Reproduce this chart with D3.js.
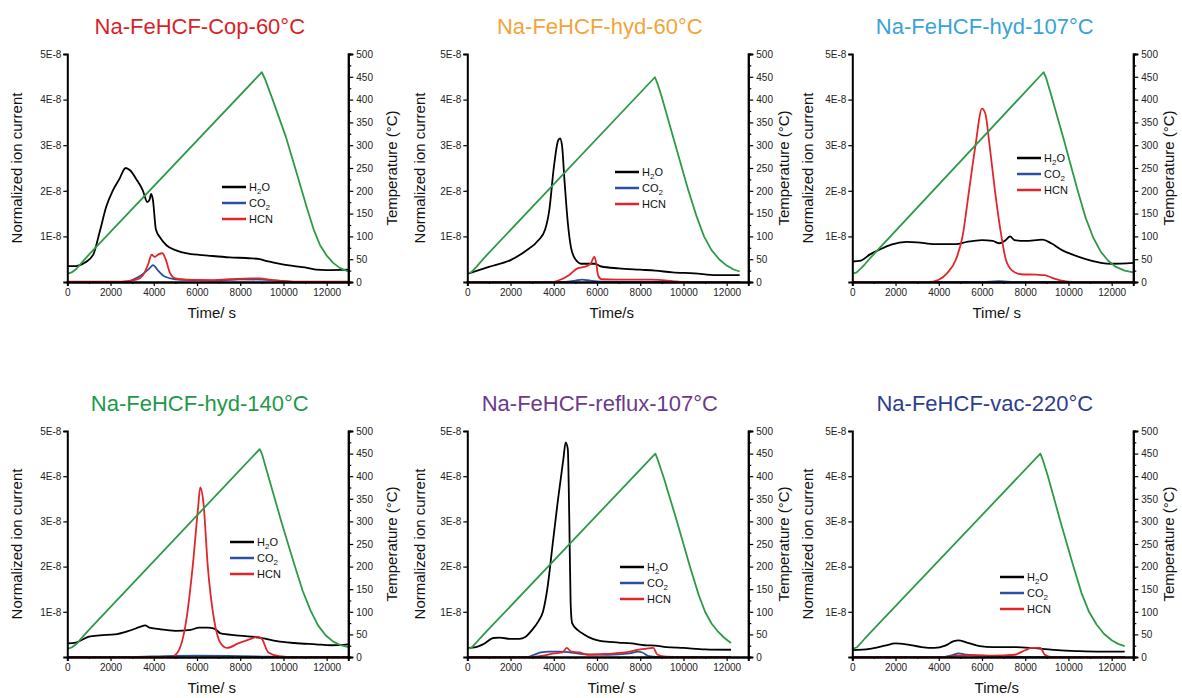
<!DOCTYPE html>
<html>
<head>
<meta charset="utf-8">
<script src="https://cdn.jsdelivr.net/npm/d3@7/dist/d3.min.js"></script>
<style>
  html, body { margin: 0; padding: 0; background: #fff; }
  svg { display: block; font-family: "Liberation Sans", Arial, sans-serif; }
</style>
</head>
<body>
<svg id="chart" width="1182" height="698"></svg>
<script>
// ---------------- DATA (time in s; ion current in units of 1E-8; temperature in °C) ----------------
const timeTicks = [0, 2000, 4000, 6000, 8000, 10000, 12000];
const currentTicks = [1, 2, 3, 4, 5];
const tempTicks = [0, 50, 100, 150, 200, 250, 300, 350, 400, 450, 500];
const seriesNames = ["H2O", "CO2", "HCN"];

// Panel 1: Na-FeHCF-Cop-60°C
const cop60_temp = [[0,18],[200,21],[400,28],[700,44],[1000,60],[9000,460],[9150,445],[9500,400],[10100,320],[10700,225],[11100,160],[11400,115],[11700,80],[12000,58],[12300,42],[12600,31],[13000,23]];
const cop60_h2o = [[0,0.35],[400,0.35],[800,0.42],[1200,0.6],[1500,1.1],[1800,1.65],[2100,2.0],[2400,2.25],[2700,2.5],[2900,2.45],[3200,2.25],[3500,2.0],[3700,1.75],[3800,1.8],[3880,1.93],[3960,1.8],[4100,1.15],[4300,0.97],[4600,0.8],[5000,0.7],[5600,0.62],[6500,0.58],[7500,0.54],[8500,0.52],[8900,0.5],[9300,0.45],[9900,0.39],[10500,0.35],[11000,0.32],[11500,0.27],[12000,0.26],[13000,0.27]];
const cop60_co2 = [[0,0],[2800,0],[3000,0.04],[3400,0.14],[3800,0.3],[3970,0.37],[4200,0.25],[4500,0.12],[5000,0.06],[6000,0.04],[7000,0.03],[8000,0.06],[9000,0.05],[10000,0.02],[10500,0],[13000,0]];
const cop60_hcn = [[0,0.01],[2500,0.01],[3200,0.05],[3500,0.15],[3750,0.4],[3900,0.6],[4050,0.55],[4200,0.6],[4400,0.63],[4550,0.5],[4750,0.2],[5000,0.08],[5500,0.05],[6500,0.04],[7500,0.06],[8500,0.08],[8900,0.08],[9500,0.04],[10500,0.01],[13000,0.01]];

// Panel 2: Na-FeHCF-hyd-60°C
const hyd60_temp = [[0,18],[200,22],[400,32],[600,43],[900,59],[8680,449],[8800,435],[9000,405],[9600,305],[10200,205],[10600,145],[10950,100],[11300,70],[11650,50],[12000,36],[12300,28],[12600,23]];
const hyd60_h2o = [[0,0.18],[1000,0.33],[2000,0.48],[2700,0.68],[3300,0.92],[3600,1.15],[3800,1.6],[4000,2.5],[4200,3.1],[4290,3.15],[4380,3.0],[4500,2.2],[4650,1.3],[4800,0.75],[5000,0.5],[5300,0.4],[5900,0.4],[6200,0.34],[7000,0.3],[8000,0.27],[8700,0.25],[9500,0.21],[10500,0.19],[11500,0.15],[12600,0.15]];
const hyd60_co2 = [[0,0],[4500,0],[5000,0.03],[5300,0.05],[5700,0.03],[6200,0.01],[7000,0],[12600,0]];
const hyd60_hcn = [[0,0],[3900,0],[4300,0.05],[4700,0.15],[5100,0.3],[5400,0.33],[5700,0.4],[5880,0.55],[5950,0.45],[6050,0.15],[6200,0.06],[7000,0.05],[8500,0.05],[9500,0.02],[10000,0],[12600,0]];

// Panel 3: Na-FeHCF-hyd-107°C
const hyd107_temp = [[0,18],[200,21],[400,30],[600,40],[900,56],[8850,460],[8950,450],[9200,410],[9800,310],[10400,205],[10800,140],[11150,97],[11500,66],[11850,46],[12200,33],[12600,25],[13000,21]];
const hyd107_h2o = [[0,0.45],[400,0.47],[800,0.6],[1300,0.72],[1800,0.82],[2500,0.88],[3000,0.87],[3800,0.83],[4800,0.83],[5300,0.88],[6000,0.92],[6500,0.9],[6800,0.85],[7100,0.92],[7300,1.0],[7500,0.92],[8000,0.9],[8800,0.93],[9200,0.85],[9700,0.7],[10200,0.6],[10800,0.5],[11500,0.42],[12000,0.4],[13000,0.42]];
const hyd107_co2 = [[0,0],[6000,0],[6800,0.02],[7500,0],[13000,0]];
const hyd107_hcn = [[0,0],[3500,0],[4000,0.05],[4400,0.2],[4800,0.5],[5100,1.0],[5400,2.0],[5700,3.0],[6000,3.8],[6150,3.7],[6350,3.0],[6600,2.0],[6900,1.0],[7100,0.5],[7400,0.25],[7800,0.17],[8500,0.16],[8900,0.15],[9200,0.1],[9700,0.03],[10200,0],[13000,0]];

// Panel 4: Na-FeHCF-hyd-140°C
const hyd140_temp = [[0,18],[200,21],[450,30],[700,44],[1000,60],[8900,460],[9000,450],[9300,400],[9900,300],[10500,205],[10900,145],[11250,103],[11600,70],[11950,48],[12300,34],[12650,26],[13000,22]];
const hyd140_h2o = [[0,0.3],[400,0.32],[1000,0.45],[1500,0.48],[2200,0.5],[2800,0.57],[3400,0.67],[3600,0.7],[3800,0.65],[4200,0.62],[5000,0.58],[5700,0.6],[6100,0.65],[6500,0.65],[6800,0.63],[7100,0.52],[7800,0.48],[8500,0.45],[9000,0.42],[9700,0.35],[10500,0.31],[11500,0.28],[12200,0.26],[13000,0.28]];
const hyd140_co2 = [[0,0],[3000,0],[4500,0.02],[6000,0.03],[8000,0.02],[9000,0.01],[10000,0],[13000,0]];
const hyd140_hcn = [[0,0],[4800,0],[5100,0.1],[5500,0.8],[5800,2.0],[6050,3.3],[6150,3.75],[6300,3.4],[6500,2.0],[6800,0.8],[7100,0.3],[7400,0.2],[7900,0.3],[8500,0.4],[8800,0.45],[9000,0.4],[9300,0.1],[9800,0.02],[10500,0],[13000,0]];

// Panel 5: Na-FeHCF-reflux-107°C
const reflux107_temp = [[0,18],[200,21],[400,31],[600,42],[900,57],[8700,450],[8800,438],[9100,395],[9700,300],[10300,200],[10700,138],[11000,100],[11300,74],[11600,56],[11900,42],[12200,31]];
const reflux107_h2o = [[0,0.2],[400,0.22],[800,0.3],[1200,0.42],[1500,0.43],[2000,0.4],[2400,0.4],[2700,0.45],[3000,0.6],[3300,0.8],[3500,1.0],[3700,1.5],[3950,2.5],[4200,3.5],[4450,4.4],[4550,4.75],[4650,4.6],[4720,3.0],[4780,1.2],[4850,0.75],[5100,0.6],[5400,0.5],[5800,0.4],[6200,0.35],[7000,0.32],[7600,0.3],[8200,0.26],[8700,0.25],[9200,0.22],[10000,0.2],[11000,0.17],[12200,0.16]];
const reflux107_co2 = [[0,0],[2800,0],[3100,0.05],[3400,0.1],[3800,0.12],[4300,0.12],[4800,0.1],[5500,0.06],[6500,0.05],[7500,0.08],[7900,0.12],[8100,0.1],[8400,0.02],[9000,0],[12200,0]];
const reflux107_hcn = [[0,0],[3000,0],[3500,0.03],[4000,0.08],[4400,0.1],[4600,0.2],[4800,0.12],[5200,0.1],[5600,0.05],[6500,0.07],[7300,0.1],[7800,0.15],[8200,0.18],[8600,0.2],[8800,0.05],[9200,0.01],[10000,0],[12200,0]];

// Panel 6: Na-FeHCF-vac-220°C
const vac220_temp = [[0,18],[200,21],[400,31],[600,42],[900,57],[8700,450],[8800,438],[9050,400],[9600,305],[10200,205],[10600,142],[10950,100],[11300,72],[11650,51],[12000,37],[12300,29],[12600,24]];
const vac220_h2o = [[0,0.15],[800,0.18],[1500,0.25],[2000,0.3],[2500,0.28],[3200,0.22],[3800,0.2],[4300,0.25],[4700,0.35],[4900,0.37],[5300,0.32],[5900,0.24],[6500,0.22],[7500,0.22],[8300,0.2],[8800,0.18],[9500,0.15],[10500,0.13],[11500,0.12],[12600,0.12]];
const vac220_co2 = [[0,0],[4200,0],[4700,0.05],[4900,0.08],[5300,0.05],[6000,0.03],[7000,0.02],[8000,0],[12600,0]];
const vac220_hcn = [[0,0],[4300,0],[4800,0.03],[5500,0.04],[6500,0.03],[7500,0.05],[8000,0.15],[8300,0.2],[8700,0.2],[8900,0.05],[9200,0],[12600,0]];

const titles = ["Na-FeHCF-Cop-60°C","Na-FeHCF-hyd-60°C","Na-FeHCF-hyd-107°C","Na-FeHCF-hyd-140°C","Na-FeHCF-reflux-107°C","Na-FeHCF-vac-220°C"];
const xLabels = ["Time/ s","Time/s","Time/ s","Time/ s","Time/ s","Time/s"];

// ---------------- STYLE / LAYOUT ----------------
const titleColors = ["#d81f2b","#f2a43a","#3aa3d6","#22994a","#6a3a8c","#2e3d8c"];
const seriesColors = {h2o:"#000000", co2:"#2b4fa2", hcn:"#e1262b", temp:"#2e9a48"};
const cols = [[67.3,348.3],[467.3,748.3],[852.3,1133.3]];
const rows = [[54,282],[431,657]];
const leftTitleOffset = [45, 42, 39];
const rightTitleOffset = [49, 41, 41];
const legendPos = [[222,187],[615,172],[1017,158],[230,542],[620,567],[1000,577]];

const panels = [
  {temp:cop60_temp, h2o:cop60_h2o, co2:cop60_co2, hcn:cop60_hcn},
  {temp:hyd60_temp, h2o:hyd60_h2o, co2:hyd60_co2, hcn:hyd60_hcn},
  {temp:hyd107_temp, h2o:hyd107_h2o, co2:hyd107_co2, hcn:hyd107_hcn},
  {temp:hyd140_temp, h2o:hyd140_h2o, co2:hyd140_co2, hcn:hyd140_hcn},
  {temp:reflux107_temp, h2o:reflux107_h2o, co2:reflux107_co2, hcn:reflux107_hcn},
  {temp:vac220_temp, h2o:vac220_h2o, co2:vac220_co2, hcn:vac220_hcn}
];

const svg = d3.select("#chart");
const defs = svg.append("defs");

panels.forEach((p, i) => {
  const c = i % 3;
  const [x0, x1] = cols[c];
  const [y0, y1] = rows[Math.floor(i / 3)];
  const x = d3.scaleLinear().domain([0, 13000]).range([x0, x1]);
  const yL = d3.scaleLinear().domain([0, 5]).range([y1, y0]);
  const yR = d3.scaleLinear().domain([0, 500]).range([y1, y0]);
  const g = svg.append("g");

  defs.append("clipPath").attr("id", "clip" + i)
    .append("rect").attr("x", x0).attr("y", y0 - 2).attr("width", x1 - x0).attr("height", y1 - y0 + 2);

  // title
  g.append("text").attr("x", (x0 + x1) / 2 - 8).attr("y", y0 - 20)
    .attr("text-anchor", "middle").attr("font-size", 22).attr("fill", titleColors[i])
    .text(titles[i]);

  // data lines
  const lineL = d3.line().x(d => x(d[0])).y(d => yL(d[1])).curve(d3.curveMonotoneX);
  const lineR = d3.line().x(d => x(d[0])).y(d => yR(d[1])).curve(d3.curveLinear);
  const lg = g.append("g").attr("clip-path", `url(#clip${i})`);
  lg.append("path").attr("d", lineL(p.co2)).attr("fill","none").attr("stroke",seriesColors.co2).attr("stroke-width",1.8);
  lg.append("path").attr("d", lineL(p.h2o)).attr("fill","none").attr("stroke",seriesColors.h2o).attr("stroke-width",1.8);
  lg.append("path").attr("d", lineL(p.hcn)).attr("fill","none").attr("stroke",seriesColors.hcn).attr("stroke-width",1.8);
  lg.append("path").attr("d", lineR(p.temp)).attr("fill","none").attr("stroke",seriesColors.temp).attr("stroke-width",1.8)
    .attr("stroke-linejoin","round");

  // axes
  const axL = d3.axisLeft(yL).tickValues(currentTicks).tickFormat(d => d + "E-8").tickSize(4).tickPadding(2);
  const axR = d3.axisRight(yR).tickValues(tempTicks).tickFormat(d3.format("d")).tickSize(5).tickPadding(3);
  const axRm = d3.axisRight(yR).tickValues(d3.range(25, 500, 50)).tickFormat("").tickSize(3);
  const axB = d3.axisBottom(x).tickValues(timeTicks).tickFormat(d3.format("d")).tickSize(4).tickPadding(3);
  const axBm = d3.axisBottom(x).tickValues(d3.range(1000, 13001, 2000)).tickFormat("").tickSize(2);

  const styleAxis = sel => {
    sel.select(".domain").attr("stroke", "#000").attr("stroke-width", 2);
    sel.selectAll(".tick line").attr("stroke", "#000").attr("stroke-width", 1.2);
    sel.selectAll(".tick text").attr("font-size", 10).attr("fill", "#222")
      .attr("font-family", '"Liberation Sans", Arial, sans-serif');
  };
  g.append("g").attr("transform", `translate(${x0},0)`).call(axL).call(styleAxis);
  g.append("g").attr("transform", `translate(${x1},0)`).call(axRm).call(styleAxis);
  g.append("g").attr("transform", `translate(${x1},0)`).call(axR).call(styleAxis);
  g.append("g").attr("transform", `translate(0,${y1})`).call(axBm).call(styleAxis);
  g.append("g").attr("transform", `translate(0,${y1})`).call(axB).call(styleAxis);

  // axis titles
  const yc = (y0 + y1) / 2;
  g.append("text").attr("transform", `translate(${x0 - leftTitleOffset[c]},${yc}) rotate(-90)`)
    .attr("text-anchor","middle").attr("font-size",15).attr("fill","#111").text("Normalized ion current");
  g.append("text").attr("transform", `translate(${x1 + rightTitleOffset[c]},${yc}) rotate(-90)`)
    .attr("text-anchor","middle").attr("font-size",15).attr("fill","#111").text("Temperature (°C)");
  g.append("text").attr("x", (x0 + x1) / 2 + 4).attr("y", y1 + 36)
    .attr("text-anchor","middle").attr("font-size",15).attr("fill","#111").text(xLabels[i]);

  // legend
  const [lx, ly] = legendPos[i];
  const keys = ["h2o","co2","hcn"];
  keys.forEach((k, j) => {
    const yy = ly + j * 16;
    g.append("line").attr("x1", lx).attr("x2", lx + 24).attr("y1", yy).attr("y2", yy)
      .attr("stroke", seriesColors[k]).attr("stroke-width", 2.5);
    const t = g.append("text").attr("x", lx + 27).attr("y", yy + 4).attr("font-size", 11).attr("fill", "#111");
    const name = seriesNames[j];
    const m = name.match(/^([A-Z]+)(\d)?([A-Z]*)$/);
    if (m && m[2]) {
      t.append("tspan").text(m[1]);
      t.append("tspan").attr("font-size", 8).attr("dy", 3).text(m[2]);
      if (m[3]) t.append("tspan").attr("dy", -3).text(m[3]);
    } else {
      t.text(name);
    }
  });
});
</script>
</body>
</html>
